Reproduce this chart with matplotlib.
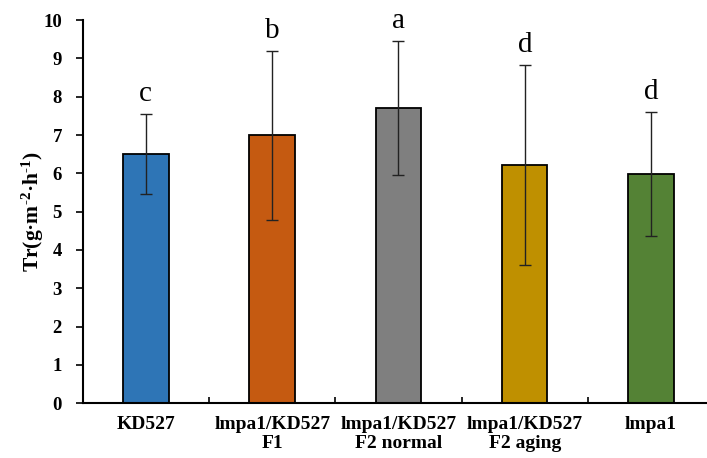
import matplotlib
matplotlib.use('Agg')
import matplotlib.pyplot as plt
import numpy as np

categories = ['KD527', 'lmpa1/KD527\nF1', 'lmpa1/KD527\nF2 normal',
              'lmpa1/KD527\nF2 aging', 'lmpa1']
values = [6.50, 6.99, 7.71, 6.22, 5.98]
errors = [1.04, 2.20, 1.75, 2.60, 1.61]
letters = ['c', 'b', 'a', 'd', 'd']
colors = ['#2E75B6', '#C55A11', '#7F7F7F', '#BF9000', '#548235']

plt.rcParams['font.family'] = ['Liberation Serif', 'DejaVu Serif']
plt.rcParams['mathtext.fontset'] = 'custom'
plt.rcParams['mathtext.rm'] = 'Liberation Serif:bold'
plt.rcParams['mathtext.default'] = 'rm'


def draw():
    fig = plt.figure(figsize=(7.07, 4.58), dpi=100)
    ax = fig.add_axes([0.117, 0.1194, 0.883, 0.8369])
    x = np.arange(len(categories))

    ax.bar(x, values, width=0.36, color=colors, edgecolor='black',
           linewidth=1.3, zorder=2)
    ax.errorbar(x, values, yerr=errors, fmt='none', ecolor='#222222',
                elinewidth=1.0, capsize=4.5, capthick=1.0, zorder=3)

    for xi, v, e, t in zip(x, values, errors, letters):
        ax.annotate(t, (xi, v + e), xytext=(0, 5), textcoords='offset points',
                    ha='center', va='bottom', fontsize=21)

    ax.set_xlim(-0.5, 4.443)
    ax.set_ylim(0, 10)
    ax.set_yticks(range(0, 11))
    ax.tick_params(axis='y', direction='out', length=5, width=1.2,
                   labelsize=13.5, pad=10)
    for lab in ax.get_yticklabels():
        lab.set_fontweight('bold')

    # category labels centred, ticks at the boundaries
    ax.set_xticks(x)
    ax.set_xticklabels(categories, fontsize=14, fontweight='bold',
                       linespacing=1.2)
    ax.tick_params(axis='x', length=0, pad=9)
    ax.set_xticks(np.arange(0.5, 4.5, 1), minor=True)
    ax.tick_params(axis='x', which='minor', direction='in', length=4, width=1.2)

    ax.set_ylabel(r'Tr(g·m$^{\text{-2}}$·h$^{\text{-1}}$)', fontsize=15.5,
                  fontweight='bold', va='center')
    ax.yaxis.set_label_coords(-0.08, 0.5)

    for side in ['top', 'right']:
        ax.spines[side].set_visible(False)
    for side in ['left', 'bottom']:
        ax.spines[side].set_linewidth(1.5)

    fig.savefig('out.png', dpi=100)


def main():
    draw()


if __name__ == '__main__':
    main()
